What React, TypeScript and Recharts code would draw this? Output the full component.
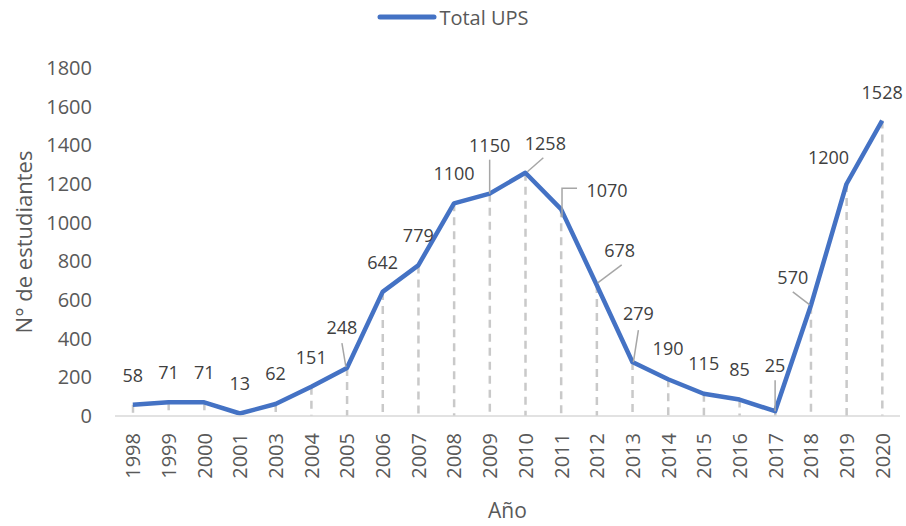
import {
  Bar,
  ComposedChart,
  LabelList,
  Legend,
  Line,
  XAxis,
  YAxis,
} from "recharts";

const years = [
  "1998", "1999", "2000", "2001", "2003", "2004", "2005", "2006", "2007", "2008", "2009",
  "2010", "2011", "2012", "2013", "2014", "2015", "2016", "2017", "2018", "2019", "2020",
];
const totalUps = [
  58, 71, 71, 13, 62, 151, 248, 642, 779, 1100, 1150,
  1258, 1070, 678, 279, 190, 115, 85, 25, 570, 1200, 1528,
];
const yTicks = [0, 200, 400, 600, 800, 1000, 1200, 1400, 1600, 1800];

// label placement (dx, dy from the point) and optional leader line, like Excel's moved labels
type LabelPos = { dx: number; dy: number; leader?: number[][] };
const labelPos: LabelPos[] = [
  { dx: 0, dy: -30 },
  { dx: 0, dy: -30 },
  { dx: 0, dy: -30 },
  { dx: 0, dy: -30 },
  { dx: 0, dy: -31 },
  { dx: 0, dy: -30 },
  { dx: -5, dy: -41, leader: [[-5, -25], [-1, -1]] },
  { dx: 0, dy: -30 },
  { dx: 0, dy: -30 },
  { dx: 0, dy: -30 },
  { dx: 0, dy: -49, leader: [[0, -34], [0, 0]] },
  { dx: 20, dy: -30, leader: [[2, -1], [18, -15]] },
  { dx: 46, dy: -19, leader: [[1, 8], [1, -21], [16, -21]] },
  { dx: 23, dy: -35, leader: [[1, -2], [25, -20]] },
  { dx: 6, dy: -49, leader: [[6, -32], [1, 0]] },
  { dx: 0, dy: -31 },
  { dx: 0, dy: -31 },
  { dx: 0, dy: -31 },
  { dx: 0, dy: -46, leader: [[0, -31], [0, 0]] },
  { dx: -18, dy: -29, leader: [[-18, -14], [-1, -1]] },
  { dx: -18, dy: -27 },
  { dx: 0, dy: -29 },
];

const data = years.map((year, i) => ({ year, total: totalUps[i] }));

const FONT = "'Open Sans', 'Noto Sans', sans-serif";
const BLUE = "#4472C4";
const GREY_TEXT = "#595959";

function DropLine(props: any) {
  const { x, y, width, height } = props;
  const cx = x + width / 2;
  return (
    <line
      x1={cx}
      y1={y}
      x2={cx}
      y2={y + height}
      stroke="#c9c9c9"
      strokeWidth={2.5}
      strokeDasharray="8 6"
    />
  );
}

function PointLabel(props: any) {
  const { x, y, value, index } = props;
  const pos = labelPos[index] || { dx: 0, dy: -30 };
  const pts = pos.leader ? pos.leader.map(([a, b]) => `${x + a},${y + b}`).join(" ") : null;
  return (
    <g>
      {pts && <polyline points={pts} fill="none" stroke="#a6a6a6" strokeWidth={1.5} />}
      <text
        x={x + pos.dx}
        y={y + pos.dy}
        textAnchor="middle"
        dominantBaseline="central"
        fontFamily={FONT}
        fontSize={18}
        fill="#404040"
      >
        {value}
      </text>
    </g>
  );
}

function YearTick(props: any) {
  const { x, y, payload } = props;
  return (
    <text
      x={x}
      y={y}
      transform={`rotate(-90, ${x}, ${y})`}
      textAnchor="end"
      dominantBaseline="central"
      fontFamily={FONT}
      fontSize={20}
      fill={GREY_TEXT}
    >
      {payload.value}
    </text>
  );
}

function LegendBox() {
  return (
    <div style={{ width: 906, height: 34, display: "flex", justifyContent: "center", alignItems: "center" }}>
      <svg width={60} height={10}>
        <line x1={3} y1={5} x2={57} y2={5} stroke={BLUE} strokeWidth={5} strokeLinecap="round" />
      </svg>
      <span style={{ fontFamily: FONT, fontSize: 20, color: GREY_TEXT, marginLeft: 2 }}>Total UPS</span>
    </div>
  );
}

export default function App() {
  return (
    <div style={{ position: "absolute", left: 0, top: 0, background: "#fff" }}>
      <ComposedChart
        width={906}
        height={526}
        data={data}
        margin={{ top: 34, right: 6, left: 0, bottom: 0 }}
        barCategoryGap={0}
      >
        <XAxis
          dataKey="year"
          interval={0}
          height={110}
          tickLine={false}
          tickSize={0}
          tickMargin={17}
          axisLine={{ stroke: "#d9d9d9", strokeWidth: 1.5 }}
          tick={<YearTick />}
          label={({ viewBox }: any) => (
            <text
              x={viewBox.x + viewBox.width / 2}
              y={viewBox.y + 94}
              textAnchor="middle"
              dominantBaseline="central"
              fontFamily={FONT}
              fontSize={21}
              fill={GREY_TEXT}
            >
              Año
            </text>
          )}
        />
        <YAxis
          width={115}
          domain={[0, 1800]}
          ticks={yTicks}
          interval={0}
          axisLine={false}
          tickLine={false}
          tickSize={0}
          tickMargin={23}
          tick={{ fontFamily: FONT, fontSize: 20, fill: GREY_TEXT }}
          label={({ viewBox }: any) => {
            const cx = viewBox.x + 23;
            const cy = viewBox.y + viewBox.height / 2;
            return (
              <text
                x={cx}
                y={cy}
                transform={`rotate(-90, ${cx}, ${cy})`}
                textAnchor="middle"
                dominantBaseline="central"
                fontFamily={FONT}
                fontSize={22}
                fill={GREY_TEXT}
              >
                N° de estudiantes
              </text>
            );
          }}
        />
        <Legend verticalAlign="top" align="center" wrapperStyle={{ left: 0, top: 0 }} content={() => <LegendBox />} />
        <Bar dataKey="total" barSize={4} shape={<DropLine />} isAnimationActive={false} legendType="none" />
        <Line
          type="linear"
          dataKey="total"
          name="Total UPS"
          stroke={BLUE}
          strokeWidth={4.5}
          strokeLinejoin="round"
          dot={false}
          activeDot={false}
          isAnimationActive={false}
        >
          <LabelList dataKey="total" content={<PointLabel />} />
        </Line>
      </ComposedChart>
    </div>
  );
}
